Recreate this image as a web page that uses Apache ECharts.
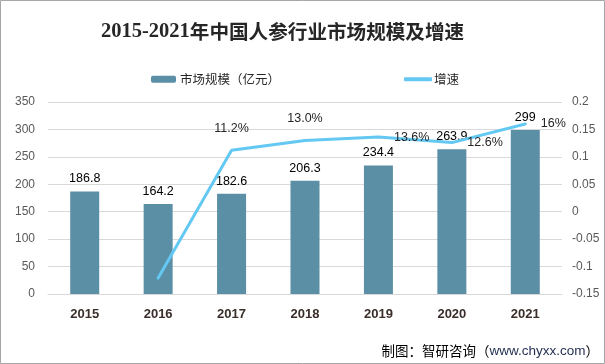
<!DOCTYPE html>
<html><head><meta charset="utf-8">
<script src="https://cdn.jsdelivr.net/npm/echarts@6/dist/echarts.min.js"></script>
<style>html,body{margin:0;padding:0;background:#fff}#c{width:605px;height:364px}</style>
</head><body><div id="c"></div>
<script>
var years = ['2015','2016','2017','2018','2019','2020','2021'];
var marketSize = [186.8, 164.2, 182.6, 206.3, 234.4, 263.9, 299];
var growth = [null, -0.121, 0.112, 0.130, 0.136, 0.126, 0.160];
var growthLabels = ['', '', '11.2%', '13.0%', '13.6%', '12.6%', '16%'];
var growthLabelPos = ['top','top','top','top','right','right','right'];

var chart = echarts.init(document.getElementById('c'));
var cjk = '"Noto Sans CJK SC", sans-serif';
chart.setOption({
  animation: false,
  backgroundColor: '#fff',
  title: {
    text: '{a|2015-2021}{b|年中国人参行业市场规模及增速}',
    left: 96, top: 16,
    textStyle: {
      rich: {
        a: {fontFamily: '"Liberation Serif", serif', fontWeight: 'bold', fontSize: 20.5, color: '#262626'},
        b: {fontFamily: cjk, fontWeight: 'bold', fontSize: 19.6, color: '#262626'}
      }
    }
  },
  legend: [
    {data: ['市场规模（亿元）'], left: 146, top: 68, itemWidth: 25, itemHeight: 7, itemGap: 4,
     textStyle: {fontFamily: cjk, fontSize: 12.5, color: '#262626', padding: [0,0,0,-1]}},
    {data: [{name: '增速', icon: 'roundRect'}], left: 399, top: 68, itemWidth: 28, itemHeight: 4,
     textStyle: {fontFamily: cjk, fontSize: 12.5, color: '#262626', padding: [0,0,0,-3]}}
  ],
  grid: {left: 48, right: 43, top: 102, bottom: 70},
  xAxis: {
    type: 'category', data: years,
    axisLine: {lineStyle: {color: '#d9d9d9'}},
    axisTick: {show: false},
    axisLabel: {fontFamily: '"Liberation Sans", sans-serif', fontWeight: 'bold', fontSize: 13, color: '#3a2e2a', margin: 14}
  },
  yAxis: [
    {type: 'value', min: 0, max: 350, interval: 50,
     axisLine: {show: false}, axisTick: {show: false},
     splitLine: {lineStyle: {color: '#d9d9d9'}},
     axisLabel: {fontFamily: '"Liberation Sans", sans-serif', fontSize: 12, color: '#595959', margin: 13}},
    {type: 'value', min: -0.15, max: 0.2, interval: 0.05,
     axisLine: {show: false}, axisTick: {show: false}, splitLine: {show: false},
     axisLabel: {fontFamily: '"Liberation Sans", sans-serif', fontSize: 12, color: '#595959', margin: 10,
       formatter: function (v) { return String(+v.toFixed(2)); }}}
  ],
  series: [
    {name: '市场规模（亿元）', type: 'bar', data: marketSize, barWidth: 29,
     itemStyle: {color: '#5b8fa6'},
     label: {show: true, position: 'top', distance: 6, fontFamily: '"Liberation Sans", sans-serif', fontSize: 12.5, color: '#000'}},
    {name: '增速', type: 'line', yAxisIndex: 1, showSymbol: true, symbol: 'circle', symbolSize: 1,
     data: growth.map(function (v, i) {
       return {value: v, label: {show: growthLabels[i] !== '', position: growthLabelPos[i], formatter: growthLabels[i]}};
     }),
     lineStyle: {color: '#63c8f2', width: 3, cap: 'round'},
     itemStyle: {color: '#63c8f2'},
     label: {show: true, distance: 15, fontFamily: '"Liberation Sans", sans-serif', fontSize: 12.5, color: '#262626'}}
  ],
  graphic: [
    {type: 'text', right: 6, top: 344,
     style: {text: '{a|制图：智研咨询（}{b|www.chyxx.com}{a|）}',
       rich: {a: {fontFamily: cjk, fontSize: 13.5, fill: '#000'},
              b: {fontFamily: '"Liberation Sans", sans-serif', fontSize: 13.5, fill: '#1f2d50'}}}},
    {type: 'rect', shape: {x: 0.5, y: 0.5, width: 604, height: 363}, style: {fill: 'none', stroke: '#a6a6a6', lineWidth: 1}, silent: true}
  ]
});
</script></body></html>
